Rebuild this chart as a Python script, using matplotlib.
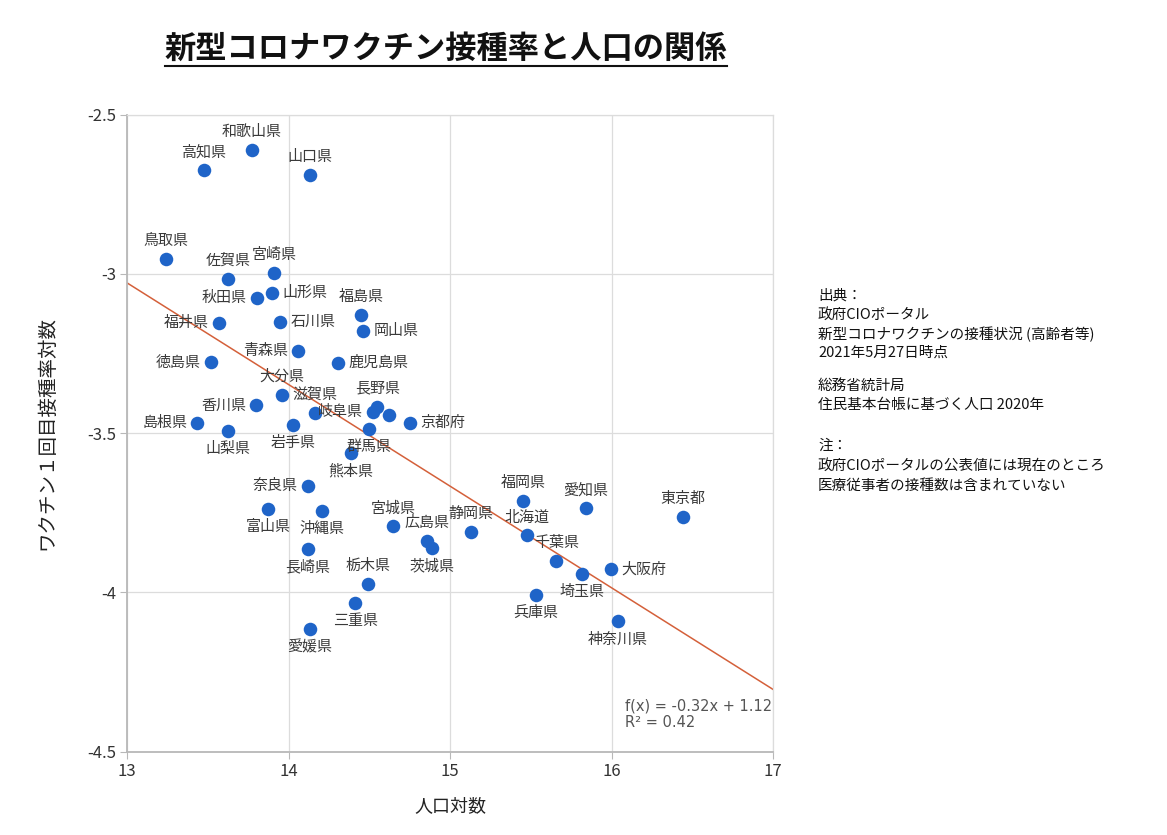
import matplotlib
matplotlib.use("Agg")
import matplotlib.pyplot as plt
from matplotlib.lines import Line2D
import numpy as np

plt.rcParams['font.family'] = ['Noto Sans CJK JP', 'DejaVu Sans']

# ---- data ----
prefectures = ["和歌山県", "高知県", "山口県", "鳥取県", "佐賀県", "宮崎県", "秋田県", "山形県",
               "福島県", "岡山県", "福井県", "石川県", "青森県", "徳島県", "鹿児島県", "大分県",
               "滋賀県", "香川県", "岐阜県", "長野県", "新潟県", "群馬県", "京都府", "島根県",
               "山梨県", "岩手県", "熊本県", "奈良県", "富山県", "沖縄県", "宮城県", "広島県",
               "茨城県", "長崎県", "栃木県", "三重県", "愛媛県", "福岡県", "愛知県", "東京都",
               "静岡県", "北海道", "千葉県", "大阪府", "埼玉県", "兵庫県", "神奈川県"]
log_population = [13.770, 13.475, 14.131, 13.240, 13.622, 13.908, 13.801, 13.896,
                  14.449, 14.461, 13.568, 13.947, 14.059, 13.518, 14.305, 13.958,
                  14.164, 13.797, 14.523, 14.548, 14.619, 14.495, 14.750, 13.432,
                  13.623, 14.026, 14.385, 14.119, 13.871, 14.207, 14.645, 14.853,
                  14.885, 14.117, 14.490, 14.412, 14.129, 15.450, 15.840, 16.443,
                  15.126, 15.477, 15.656, 15.995, 15.815, 15.529, 16.036]
log_vaccination = [-2.612, -2.675, -2.689, -2.954, -3.015, -2.996, -3.075, -3.059,
                   -3.130, -3.178, -3.153, -3.151, -3.241, -3.278, -3.279, -3.379,
                   -3.436, -3.413, -3.433, -3.417, -3.444, -3.486, -3.467, -3.468,
                   -3.494, -3.474, -3.564, -3.667, -3.738, -3.746, -3.792, -3.839,
                   -3.862, -3.865, -3.973, -4.034, -4.115, -3.712, -3.736, -3.763,
                   -3.809, -3.821, -3.903, -3.927, -3.943, -4.008, -4.091]
fit_slope = -0.319
fit_intercept = 1.118
fit_text = "f(x) = -0.32x + 1.12\nR² = 0.42"
x_ticks = [13, 14, 15, 16, 17]
y_ticks = [-4.5, -4, -3.5, -3, -2.5]
y_tick_labels = ["-4.5", "-4", "-3.5", "-3", "-2.5"]

notes = [
    ("出典：", 296), ("政府CIOポータル", 315), ("新型コロナワクチンの接種状況 (高齢者等)", 334),
    ("2021年5月27日時点", 353), ("総務省統計局", 386), ("住民基本台帳に基づく人口 2020年", 405),
    ("注：", 446), ("政府CIOポータルの公表値には現在のところ", 466), ("医療従事者の接種数は含まれていない", 486),
]

# label placement (layout only)
place = {
    "和歌山県": "up", "高知県": "up", "山口県": "up", "鳥取県": "up", "佐賀県": "up", "宮崎県": "up",
    "秋田県": "left", "山形県": "right", "福島県": "up", "岡山県": "right", "福井県": "left",
    "石川県": "right", "青森県": "left", "徳島県": "left", "鹿児島県": "right", "大分県": "up",
    "滋賀県": "up", "香川県": "left", "岐阜県": "left", "長野県": "up", "新潟県": None,
    "群馬県": "down", "京都府": "right", "島根県": "left", "山梨県": "down", "岩手県": "down",
    "熊本県": "down", "奈良県": "left", "富山県": "down", "沖縄県": "down", "宮城県": "up",
    "広島県": "up", "茨城県": "down", "長崎県": "down", "栃木県": "up", "三重県": "down",
    "愛媛県": "down", "福岡県": "up", "愛知県": "up", "東京都": "up", "静岡県": "up",
    "北海道": "up", "千葉県": "up", "大阪府": "right", "埼玉県": "down", "兵庫県": "down",
    "神奈川県": "down",
}
offsets = {"up": ((0, 18), "center"), "down": ((0, -18), "center"),
           "left": ((-10, 0), "right"), "right": ((10, 0), "left")}

W, H = 1167, 835
AX_L, AX_R, AX_T, AX_B = 127.3, 773.3, 114.5, 751.7
fig = plt.figure(figsize=(W / 100, H / 100), dpi=100)
ax = fig.add_axes([AX_L / W, 1 - AX_B / H, (AX_R - AX_L) / W, (AX_B - AX_T) / H])

ax.set_xlim(13, 17)
ax.set_ylim(-4.5, -2.5)
ax.set_xticks(x_ticks)
ax.set_yticks(y_ticks)
ax.set_yticklabels(y_tick_labels)
ax.grid(True, color="#dcdcdc", linewidth=0.9)
ax.set_axisbelow(True)
for s in ["top", "right"]:
    ax.spines[s].set_color("#dcdcdc")
    ax.spines[s].set_linewidth(0.9)
for s in ["left", "bottom"]:
    ax.spines[s].set_color("#b8b8b8")
    ax.spines[s].set_linewidth(1.3)
ax.tick_params(direction="out", length=5, color="#b8b8b8", labelsize=12,
               labelcolor="#333333", pad=3)

xs = np.linspace(13, 17, 2)
ax.plot(xs, fit_slope * xs + fit_intercept, color="#d4603a", linewidth=1.1, zorder=2)

ax.scatter(log_population, log_vaccination, s=95, color="#1f64c8", zorder=3, linewidths=0)

for name, x, y in zip(prefectures, log_population, log_vaccination):
    p = place.get(name)
    if p is None:
        continue
    off, ha = offsets[p]
    ax.annotate(name, (x, y), xytext=off, textcoords="offset pixels",
                ha=ha, va="center", fontsize=10.8, color="#3a3a3a", zorder=4)

ax.text(625 / W, 1 - 714 / H, fit_text, transform=fig.transFigure, fontsize=10.5,
        color="#555555", ha="left", va="center", linespacing=1.15,
        family=["DejaVu Sans"])

ax.set_xlabel("人口対数", fontsize=13, color="#222222", va="center")
ax.xaxis.set_label_coords(0.5, -(806 - AX_B) / (AX_B - AX_T))
ax.set_ylabel("ワクチン１回目接種率対数", fontsize=14, color="#222222", va="center")
ax.yaxis.set_label_coords(-(AX_L - 47) / (AX_R - AX_L), 0.5)

title = fig.text(446 / W, 1 - 49 / H, "新型コロナワクチン接種率と人口の関係",
                 fontsize=22.5, fontweight="bold", ha="center", va="center", color="#111111")

for txt, ypx in notes:
    fig.text(818 / W, 1 - ypx / H, txt, fontsize=10.5, color="#111111", ha="left", va="center")

fig.canvas.draw()
bb = title.get_window_extent()
uy = bb.y0 - 1
fig.add_artist(Line2D([bb.x0 / W, bb.x1 / W], [uy / H, uy / H], color="#111111",
                      linewidth=1.5, transform=fig.transFigure))

fig.savefig("out.png", dpi=100)
